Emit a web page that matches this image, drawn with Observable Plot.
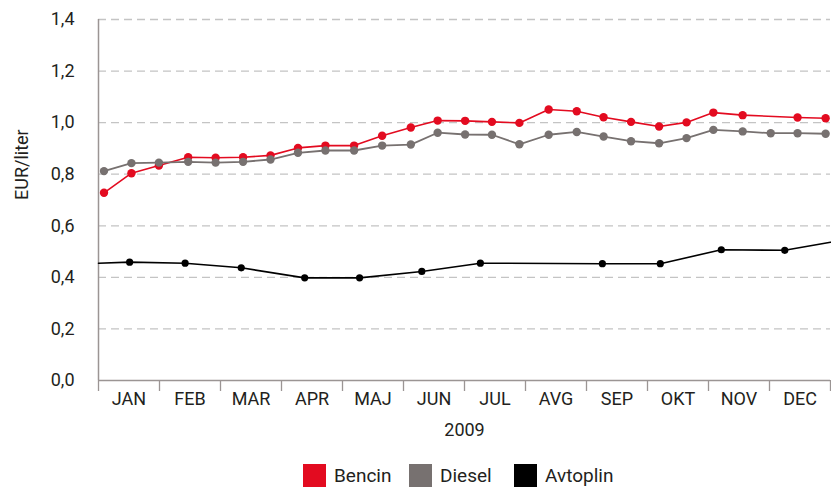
<!DOCTYPE html>
<html>
<head>
<meta charset="utf-8">
<script src="https://cdn.jsdelivr.net/npm/d3@7"></script>
<script src="https://cdn.jsdelivr.net/npm/@observablehq/plot@0.6"></script>
<style>
  html, body { margin: 0; padding: 0; background: #fff; }
  body { width: 831px; height: 487px; overflow: hidden; font-family: Roboto, "Liberation Sans", sans-serif; color: #231f20; position: relative; }
  #legend { position: absolute; left: 0; top: 464px; width: 831px; height: 23px; font-size: 19px; }
  #legend .item { position: absolute; top: 0; display: flex; align-items: center; height: 23px; }
  #legend .sw { width: 23px; height: 23px; margin-right: 8px; }
</style>
</head>
<body>
<div id="chart"></div>
<div id="legend"></div>
<script>
// Month labels (x axis categories)
const months = ["JAN","FEB","MAR","APR","MAJ","JUN","JUL","AVG","SEP","OKT","NOV","DEC"];
const yTicks = [0, 0.2, 0.4, 0.6, 0.8, 1.0, 1.2, 1.4];
const yearLabel = "2009";
const yLabel = "EUR/liter";

// Observation times, in months since 1 Jan 2009
const bdTime = [0.09,0.54,0.99,1.47,1.92,2.37,2.82,3.27,3.72,4.19,4.65,5.12,5.56,6.01,6.45,6.90,7.38,7.84,8.28,8.73,9.19,9.64,10.08,10.56,11.02,11.46,11.92];

// Bencin (no observation at 11.02)
const bencinTime = bdTime.filter(t => t !== 11.02);
const bencinValues = [0.728,0.804,0.834,0.866,0.864,0.866,0.873,0.902,0.911,0.911,0.949,0.981,1.008,1.007,1.003,0.999,1.051,1.044,1.021,1.003,0.985,1.001,1.039,1.029,1.020,1.017];

// Diesel
const dieselTime = bdTime;
const dieselValues = [0.812,0.843,0.845,0.848,0.845,0.848,0.857,0.883,0.892,0.892,0.911,0.915,0.961,0.954,0.953,0.916,0.953,0.964,0.946,0.928,0.920,0.940,0.972,0.966,0.959,0.959,0.957];

// Avtoplin (first and last entries are the line's ends at the chart edges, without markers)
const avtoplinTime = [0,0.51,1.42,2.34,3.38,4.28,5.30,6.26,8.26,9.21,10.21,11.25,12];
const avtoplinValues = [0.455,0.459,0.455,0.437,0.398,0.398,0.423,0.455,0.453,0.453,0.507,0.505,0.536];
const avtoplinMarker = [false,true,true,true,true,true,true,true,true,true,true,true,false];

const series = [
  {name: "Bencin", color: "#e30b20"},
  {name: "Diesel", color: "#777170"},
  {name: "Avtoplin", color: "#000000"}
];
const legendLeft = [303, 409, 514];

const bencin = bencinTime.map((t, i) => ({t, v: bencinValues[i]}));
const diesel = dieselTime.map((t, i) => ({t, v: dieselValues[i]}));
const avtoplin = avtoplinTime.map((t, i) => ({t, v: avtoplinValues[i], m: avtoplinMarker[i]}));

const fmt = d => d.toFixed(1).replace(".", ",");
const axisGray = "#9b9594";

const chart = Plot.plot({
  width: 831,
  height: 452,
  marginLeft: 98,
  marginRight: 1,
  marginTop: 19,
  marginBottom: 72,
  style: {fontFamily: "Roboto, 'Liberation Sans', sans-serif", fontSize: "16px", color: "#231f20", background: "#fff"},
  x: {domain: [0, 12], axis: null},
  y: {domain: [0, 1.4], axis: null},
  marks: [
    Plot.gridY(yTicks.filter(d => d > 0), {stroke: "#c4c4c4", strokeOpacity: 1, strokeWidth: 1.3, strokeDasharray: "8,5"}),
    Plot.axisY(yTicks, {tickSize: 0, tickPadding: 24, tickFormat: fmt, fontSize: 18, label: null}),
    Plot.axisX(d3.range(13), {tickSize: 11, tickFormat: () => "", stroke: axisGray, strokeWidth: 1.3, label: null}),
    Plot.axisX(d3.range(0.5, 12, 1), {tickSize: 0, tickPadding: 12, tickFormat: d => months[Math.floor(d)], fontSize: 18, label: null}),
    Plot.ruleX([0], {stroke: axisGray, strokeWidth: 1.5}),
    Plot.ruleY([0], {stroke: axisGray, strokeWidth: 1.5}),
    Plot.text([yearLabel], {x: () => 6, frameAnchor: "bottom", dy: 55, text: d => d, fontSize: 18}),
    Plot.text([yLabel], {y: () => 0.7, frameAnchor: "left", dx: -76, rotate: -90, text: d => d, fontSize: 18}),
    Plot.line(avtoplin, {x: "t", y: "v", stroke: series[2].color, strokeWidth: 1.6}),
    Plot.dot(avtoplin.filter(d => d.m), {x: "t", y: "v", r: 3.6, fill: series[2].color}),
    Plot.line(bencin, {x: "t", y: "v", stroke: series[0].color, strokeWidth: 1.6}),
    Plot.dot(bencin, {x: "t", y: "v", r: 4.2, fill: series[0].color}),
    Plot.line(diesel, {x: "t", y: "v", stroke: series[1].color, strokeWidth: 1.8}),
    Plot.dot(diesel, {x: "t", y: "v", r: 4.2, fill: series[1].color})
  ]
});
document.getElementById("chart").appendChild(chart);

const legend = document.getElementById("legend");
series.forEach((s, i) => {
  const item = document.createElement("div");
  item.className = "item";
  item.style.left = legendLeft[i] + "px";
  const sw = document.createElement("div");
  sw.className = "sw";
  sw.style.background = s.color;
  const label = document.createElement("span");
  label.textContent = s.name;
  item.appendChild(sw);
  item.appendChild(label);
  legend.appendChild(item);
});
</script>
</body>
</html>
